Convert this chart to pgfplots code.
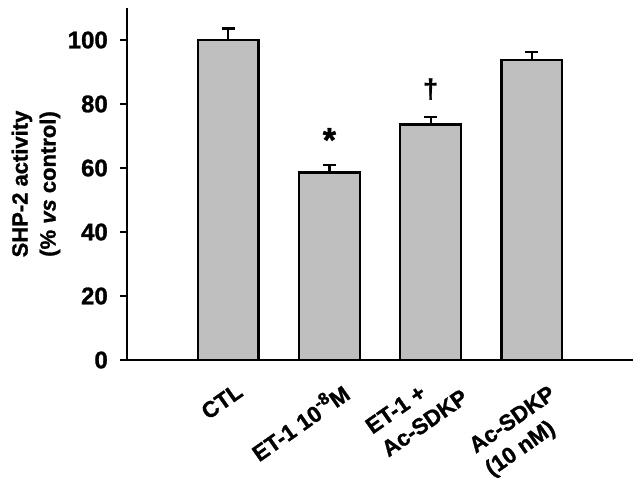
\documentclass[border=0pt]{standalone}
\usepackage{pgfplots}
\pgfplotsset{compat=1.18}
\usepackage{fontspec}
\setmainfont{Liberation Sans}[BoldFeatures={FakeBold=1.2}, BoldItalicFeatures={FakeBold=1.2}]
\begin{document}
\begin{tikzpicture}
\useasboundingbox (-127pt,-120pt) rectangle (517pt,360pt);
\begin{axis}[
  at={(0,0)}, anchor=south west,
  scale only axis, width=506pt, height=352pt,
  xmin=-1, xmax=4, ymin=0, ymax=110,
  axis lines=left,
  axis line style={line width=2.5pt, -},
  ybar, bar width=0.6,
  ytick={0,20,40,60,80,100},
  tick align=outside, major tick length=7pt,
  ytick style={line width=2.5pt, black},
  xtick={0,1,2,3},
  xtick style={draw=none},
  xticklabels={CTL, {ET-1 10\raisebox{0.42em}{\fontsize{17}{17}\selectfont -8}M}, {ET-1 +\\Ac-SDKP}, {Ac-SDKP\\(10 nM)}},
  /pgf/number format/assume math mode=true,
  yticklabel style={font=\fontsize{24}{28}\selectfont\bfseries, inner sep=0pt, anchor=east, xshift=-12pt},
  xticklabel style={font=\fontsize{22.5}{28}\selectfont\bfseries, inner sep=0pt, align=left,
    xshift={{7,10,14,16}[\ticknum]}, yshift={{-15,-13,2,-17}[\ticknum]}, rotate=35, anchor=north east},
  ylabel={SHP-2 activity\\(\% \textit{vs} control)},
  ylabel style={font=\fontsize{22}{28}\selectfont\bfseries, align=center, at={(axis description cs:-0.18,0.5)}, rotate=0, anchor=center},
  clip=false,
]
\addplot[fill=gray!50, draw=black, line width=2.5pt,
  error bars/.cd, y dir=plus, y explicit,
  error bar style={line width=2.2pt, black},
  error mark options={rotate=90, line width=2.2pt, mark size=6.5pt, black}]
  coordinates {(0,100) +- (0,3.6) (1,58.6) +- (0,2.3) (2,73.6) +- (0,2.4) (3,93.8) +- (0,2.5)};
\node[font=\fontsize{34}{34}\selectfont\bfseries, inner sep=0pt, anchor=north] at (axis cs:1,72.5) {*};
\node[font=\fontsize{27}{27}\selectfont\bfseries, inner sep=0pt, anchor=north] at (axis cs:2,88.1) {†};
\end{axis}
\end{tikzpicture}
\end{document}
